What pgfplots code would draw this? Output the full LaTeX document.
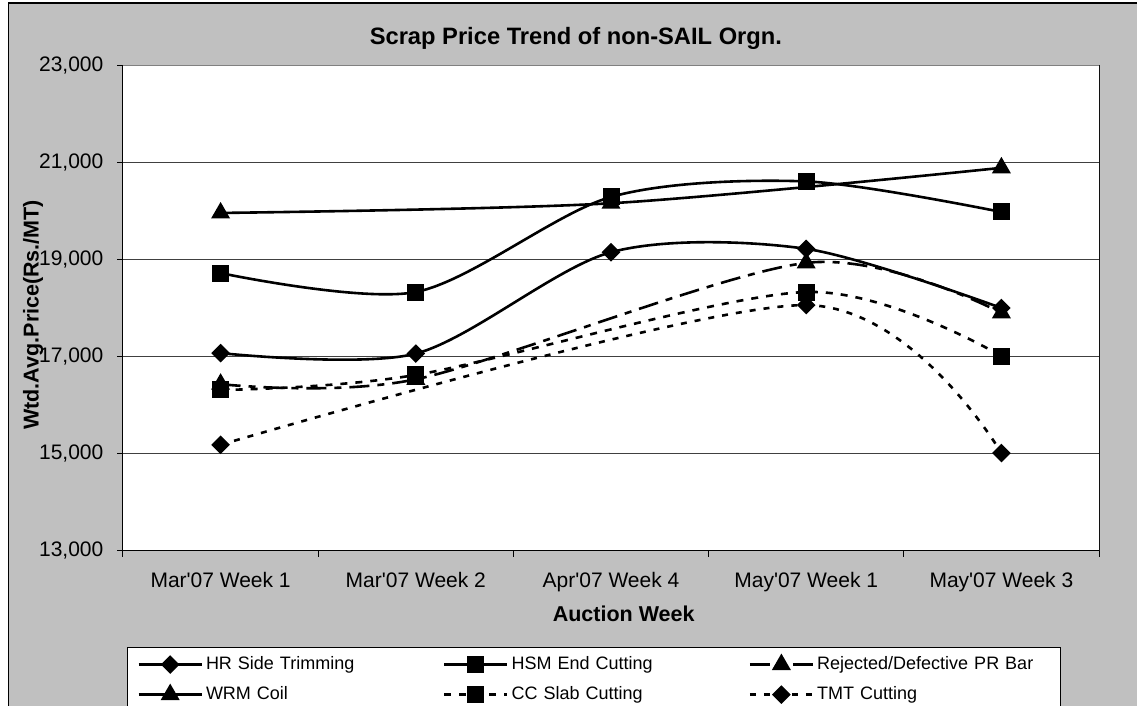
\documentclass[border=0pt]{standalone}
\usepackage{fontspec}
\setmainfont{Liberation Sans}[Ligatures=TeXOff]
\usepackage{pgfplots}
\pgfplotsset{compat=1.18}
\definecolor{bg}{RGB}{192,192,192}
\begin{document}
\begin{tikzpicture}
\useasboundingbox (0,0) rectangle (568.5pt,353pt);
\clip (0,0) rectangle (568.5pt,353pt);
\fill[white] (0,0) rectangle (568.5pt,353pt);
\filldraw[fill=bg, draw=black, line width=0.7pt] (4.2pt,-10pt) rectangle (590pt,351.4pt);
\begin{axis}[
  at={(61.5pt,77.5pt)}, anchor=south west,
  scale only axis, width=488pt, height=242.5pt,
  xmin=-0.5, xmax=4.5, ymin=13000, ymax=23000,
  xtick={-0.5,0.5,1.5,2.5,3.5,4.5},
  x tick label as interval,
  xticklabels={Mar'07 Week 1, Mar'07 Week 2, Apr'07 Week 4, May'07 Week 1, May'07 Week 3},
  ytick={13000,15000,...,23000},
  scaled y ticks=false,
  /pgf/number format/.cd, 1000 sep={,}, assume math mode=true, /pgfplots/.cd,
  ymajorgrids, grid style={black!75, line width=0.5pt},
  tick align=outside, tick pos=left, major tick length=2.8pt,
  tick style={black, line width=0.5pt},
  axis background/.style={fill=white},
  axis line style={black, line width=0.5pt},
  ticklabel style={font=\fontsize{10.5}{12}\selectfont},
  xticklabel style={yshift=-4.5pt},
  yticklabel style={xshift=-3.5pt},
  title={Scrap Price Trend of non-SAIL Orgn.},
  every axis title/.style={at={(rel axis cs:0.464,1)}, yshift=14pt, anchor=center, font=\bfseries\fontsize{11.85}{13}\selectfont},
  xlabel={Auction Week},
  every axis x label/.style={at={(rel axis cs:0.513,0)}, yshift=-31.5pt, anchor=center, font=\bfseries\fontsize{10.75}{12}\selectfont},
  ylabel={Wtd.Avg.Price(Rs./MT)},
  every axis y label/.style={at={(rel axis cs:0,0.487)}, xshift=-45pt, rotate=90, anchor=center, font=\bfseries\fontsize{10.75}{12}\selectfont},
  legend columns=3,
  legend image code/.code={\draw[mark repeat=2,mark phase=2,#1] plot coordinates {(0pt,0pt)(15.75pt,0pt)(31.5pt,0pt)};},
  legend style={at={(0.004,-0.198)}, anchor=north west, draw=black, fill=white, line width=0.5pt,
    font=\fontsize{9}{10}\selectfont, inner xsep=5pt, inner ysep=3pt, row sep=4pt,
    nodes={inner sep=1.5pt, text width=115pt, anchor=west},
    /tikz/every even column/.append style={column sep=2pt}},
  every axis plot/.append style={black, line width=1.3pt, smooth, tension=0.5},
]
\addplot[mark=square*, mark size=2.65pt, mark options={solid, rotate=45}] coordinates {(0,17080)(1,17070)(2,19160)(3,19230)(4,18010)};
\addlegendentry{HR Side Trimming}
\addplot[mark=square*, mark size=3.6pt, mark options={solid}] coordinates {(0,18730)(1,18340)(2,20300)(3,20620)(4,19990)};
\addlegendentry{HSM End Cutting}
\addplot[mark=triangle*, mark size=4.2pt, mark options={solid}, dash pattern=on 10pt off 4pt on 3.5pt off 4pt] coordinates {(0,16440)(1,16540)(3,18940)(4,17910)};
\addlegendentry{Rejected/Defective PR Bar}
\addplot[mark=triangle*, mark size=4.2pt, mark options={solid}] coordinates {(0,19970)(2,20170)(4,20900)};
\addlegendentry{WRM Coil}
\addplot[mark=square*, mark size=3.6pt, mark options={solid}, dash pattern=on 3.5pt off 4pt] coordinates {(0,16320)(1,16630)(3,18340)(4,17020)};
\addlegendentry{CC Slab Cutting}
\addplot[mark=square*, mark size=2.65pt, mark options={solid, rotate=45}, dash pattern=on 3pt off 4pt] coordinates {(0,15190)(3,18070)(4,15020)};
\addlegendentry{TMT Cutting}
\draw[gray, line width=0.5pt] (rel axis cs:0,1) -- (rel axis cs:1,1) -- (rel axis cs:1,0);
\end{axis}
\end{tikzpicture}
\end{document}
